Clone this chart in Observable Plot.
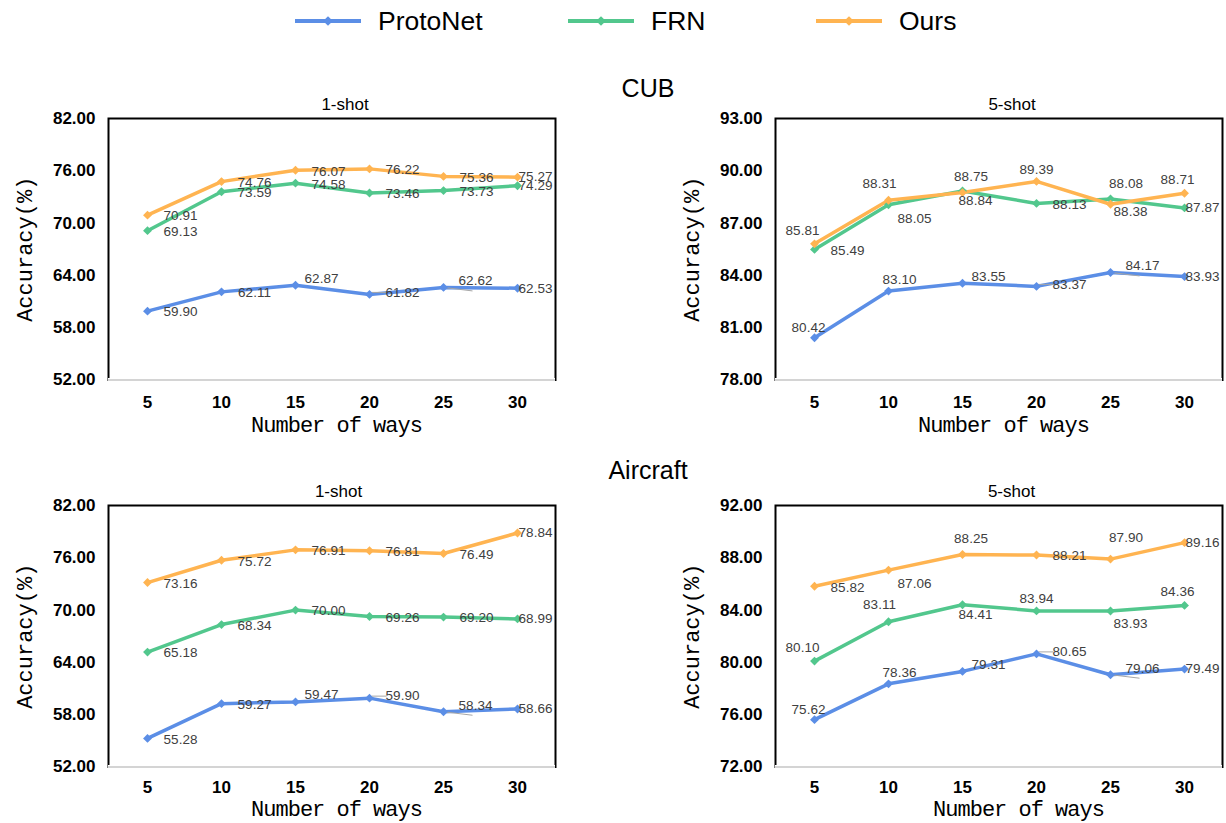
<!DOCTYPE html>
<html><head><meta charset="utf-8">
<script src="https://cdn.jsdelivr.net/npm/d3@7"></script>
<script src="https://cdn.jsdelivr.net/npm/@observablehq/plot@0.6"></script>
<style>
body{margin:0;background:#fff;}
#root{position:relative;width:1226px;height:823px;overflow:hidden;font-family:"Liberation Sans",Arial,sans-serif;}
.panel{position:absolute;}
.title{position:absolute;font-size:25px;color:#000;transform:translate(-50%,-50%);white-space:nowrap;line-height:1;}
</style></head><body><div id="root"></div>
<script>
// ---------- data ----------
const ways = [5, 10, 15, 20, 25, 30];
const seriesNames = ["ProtoNet", "FRN", "Ours"];
const colors = ["#5b8ee6", "#52c78d", "#ffb451"];

const cub1Proto = [59.90, 62.11, 62.87, 61.82, 62.62, 62.53];
const cub1FRN   = [69.13, 73.59, 74.58, 73.46, 73.73, 74.29];
const cub1Ours  = [70.91, 74.76, 76.07, 76.22, 75.36, 75.27];

const cub5Proto = [80.42, 83.10, 83.55, 83.37, 84.17, 83.93];
const cub5FRN   = [85.49, 88.05, 88.84, 88.13, 88.38, 87.87];
const cub5Ours  = [85.81, 88.31, 88.75, 89.39, 88.08, 88.71];

const air1Proto = [55.28, 59.27, 59.47, 59.90, 58.34, 58.66];
const air1FRN   = [65.18, 68.34, 70.00, 69.26, 69.20, 68.99];
const air1Ours  = [73.16, 75.72, 76.91, 76.81, 76.49, 78.84];

const air5Proto = [75.62, 78.36, 79.31, 80.65, 79.06, 79.49];
const air5FRN   = [80.10, 83.11, 84.41, 83.94, 83.93, 84.36];
const air5Ours  = [85.82, 87.06, 88.25, 88.21, 87.90, 89.16];

const ticks1 = [52, 58, 64, 70, 76, 82];
const ticksCub5 = [78, 81, 84, 87, 90, 93];
const ticksAir5 = [72, 76, 80, 84, 88, 92];

// ---------- label placement (style) ----------
const offsets = {
  R: [33, 1], RU: [33, -2], E: [18, 0], AR1: [26, -7], AR2: [32, -6.5],
  UL: [-12, -13], UL2: [-6, -10], U1: [-9, -17], U2: [-7, -14], U0: [0, -12],
  U3: [8.5, -15.5], U4: [15.5, -21], U5: [11, -11], D1: [26, 14], D2: [13, 10], D3: [20, 12.5]
};
const place = {
  cub1: [["R","R","AR1","RU","AR2","E"], ["R","R","R","R","R","E"], ["R","R","R","R","R","E"]],
  cub5: [["UL2","U5","AR1","RU","AR2","E"], ["R","D1","D2","R","D3","E"], ["UL","U1","U3","U0","U4","U2"]],
  air1: [["R","R","AR1","RU","AR2","E"], ["R","R","R","R","R","E"], ["R","R","R","R","R","E"]],
  air5: [["UL2","U5","AR1","RU","AR2","E"], ["UL","U1","D2","U0","D3","U2"], ["R","D1","U3","R","U4","E"]]
};

// custom leader-line symbols
const leaderAR = {draw(ctx) { ctx.moveTo(0, 0); ctx.lineTo(29, 3.5); }};
const leaderRU = {draw(ctx) { ctx.moveTo(2, -2); ctx.lineTo(17, -2); }};

const root = document.getElementById("root");

function makePanel(cfg) {
  const rows = seriesNames.flatMap((s, i) => ways.map((w, j) => ({
    series: s, way: w, acc: cfg.values[i][j], code: cfg.codes[i][j]
  })));
  const labelMarks = Object.keys(offsets).map(c => Plot.text(rows.filter(d => d.code === c), {
    x: "way", y: "acc", text: d => d.acc.toFixed(2), dx: offsets[c][0], dy: offsets[c][1],
    fill: "#404040", fontSize: 13.5, textAnchor: "middle", lineAnchor: "middle"
  }));
  const y0 = cfg.ticks[0];
  const svg = Plot.plot({
    width: cfg.width, height: cfg.height,
    marginLeft: cfg.mLeft, marginRight: cfg.mRight, marginTop: 28, marginBottom: cfg.height - 28 - 261.5,
    style: {fontFamily: "'Liberation Sans', Arial, sans-serif", background: "transparent", overflow: "visible", color: "#000"},
    x: {type: "point", domain: ways, padding: 0.5},
    y: {domain: [cfg.ticks[0], cfg.ticks[cfg.ticks.length - 1]]},
    color: {domain: seriesNames, range: colors},
    marks: [
      Plot.frame({stroke: "#000", strokeWidth: 2}),
      Plot.ruleY([y0], {stroke: "#fff", strokeWidth: 4}),
      Plot.ruleY([y0], {stroke: "#c6c6c6", strokeWidth: 1.5}),
      Plot.axisX({tickSize: 0, tickPadding: cfg.tickPad, fontSize: 17, fontWeight: "bold", label: null}),
      Plot.axisY({ticks: cfg.ticks, tickFormat: d3.format(".2f"), tickSize: 0, tickPadding: 13, fontSize: 17, fontWeight: "bold", label: null}),
      Plot.line(rows, {x: "way", y: "acc", z: "series", stroke: "series", strokeWidth: 3.5, strokeLinejoin: "round"}),
      Plot.dot(rows.filter(d => d.code === "AR2"), {x: "way", y: "acc", symbol: leaderAR, stroke: "#a6a6a6", strokeWidth: 1, fill: "none"}),
      Plot.dot(rows.filter(d => d.code === "RU"), {x: "way", y: "acc", symbol: leaderRU, stroke: "#a6a6a6", strokeWidth: 1, fill: "none"}),
      Plot.dot(rows, {x: "way", y: "acc", fill: "series", symbol: "diamond2", r: 4, stroke: "none"}),
      ...labelMarks,
      Plot.text([cfg.sub], {frameAnchor: "top", dx: cfg.subDx, dy: -14, fontSize: 17, fill: "#000", textAnchor: "middle", lineAnchor: "middle"}),
      Plot.text(["Accuracy(%)"], {frameAnchor: "left", dx: -84, rotate: -90, fontSize: 22, fontFamily: "'Liberation Mono', monospace", fill: "#000", textAnchor: "middle", lineAnchor: "middle"}),
      Plot.text(["Number of ways"], {frameAnchor: "bottom", dx: cfg.xlabDx, dy: cfg.xlabDy, fontSize: 22, fontFamily: "'Liberation Mono', monospace", fill: "#000", textAnchor: "middle", lineAnchor: "middle"})
    ]
  });
  d3.select(svg).selectAll("text").filter(function () { return this.textContent === "Number of ways"; })
    .attr("letter-spacing", "-1");
  svg.classList.add("panel");
  svg.style.left = cfg.left + "px";
  svg.style.top = cfg.top + "px";
  root.appendChild(svg);
}

makePanel({sub: "1-shot", values: [cub1Proto, cub1FRN, cub1Ours], codes: place.cub1, ticks: ticks1,
  left: 0, top: 90, width: 600, height: 350, mLeft: 108, mRight: 45, subDx: 13, xlabDx: 4.5, xlabDy: 45, tickPad: 16});
makePanel({sub: "5-shot", values: [cub5Proto, cub5FRN, cub5Ours], codes: place.cub5, ticks: ticksCub5,
  left: 640, top: 90, width: 586, height: 350, mLeft: 135, mRight: 4, subDx: 13, xlabDx: 4.5, xlabDy: 45, tickPad: 16});
makePanel({sub: "1-shot", values: [air1Proto, air1FRN, air1Ours], codes: place.air1, ticks: ticks1,
  left: 0, top: 477, width: 600, height: 346, mLeft: 108, mRight: 45, subDx: 6.5, xlabDx: 4.5, xlabDy: 42, tickPad: 14});
makePanel({sub: "5-shot", values: [air5Proto, air5FRN, air5Ours], codes: place.air5, ticks: ticksAir5,
  left: 640, top: 477, width: 586, height: 346, mLeft: 135, mRight: 4, subDx: 12.5, xlabDx: 19.5, xlabDy: 42, tickPad: 14});

// ---------- section titles ----------
[["CUB", 648, 88], ["Aircraft", 648, 470]].forEach(([t, x, y]) => {
  const d = document.createElement("div");
  d.className = "title"; d.textContent = t;
  d.style.left = x + "px"; d.style.top = y + "px";
  root.appendChild(d);
});

// ---------- legend ----------
const legendX = [295, 568, 816];
const leg = d3.select(root).append("svg").attr("width", 1226).attr("height", 45)
  .style("position", "absolute").style("left", "0px").style("top", "0px");
seriesNames.forEach((s, i) => {
  const g = leg.append("g").attr("transform", `translate(${legendX[i]},21)`);
  g.append("line").attr("x1", 0).attr("x2", 66).attr("y1", 0).attr("y2", 0)
    .attr("stroke", colors[i]).attr("stroke-width", 4);
  g.append("path").attr("transform", "translate(33,0)")
    .attr("d", d3.symbol(d3.symbolDiamond2, 60)()).attr("fill", colors[i]);
  g.append("text").attr("x", 83).attr("y", 0).attr("dy", "0.35em")
    .attr("font-size", 26.5).attr("font-family", "'Liberation Sans', Arial, sans-serif").attr("fill", "#000").text(s);
});
</script></body></html>
